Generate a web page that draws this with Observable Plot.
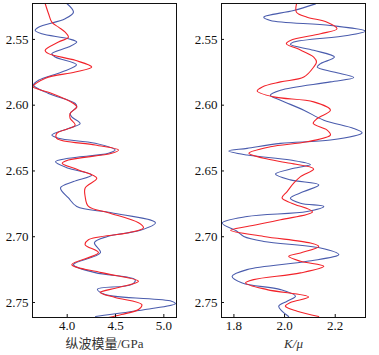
<!DOCTYPE html>
<html><head><meta charset="utf-8">
<script src="https://cdn.jsdelivr.net/npm/d3@7"></script>
<script src="https://cdn.jsdelivr.net/npm/@observablehq/plot@0.6"></script>
<style>
html,body{margin:0;padding:0;background:#fff;}
#wrap{position:relative;width:379px;height:355px;}
#left,#right{position:absolute;top:0;}
#left{left:0;} #right{left:190px;}
</style></head>
<body><div id="wrap"><div id="left"></div><div id="right"></div></div>
<script>
// Depth ticks and axis ticks
const depthTicks = [2.55, 2.60, 2.65, 2.70, 2.75];
const vpTicks = [4.0, 4.5, 5.0];
const kmuTicks = [1.8, 2.0, 2.2];

// P-wave modulus (GPa) – blue curve
const vpBlueDepth = [2.5227,2.5293,2.5343,2.5407,2.5432,2.5457,2.5495,2.5520,2.5558,2.5608,2.5634,2.5693,2.5748,2.5811,2.5848,2.5911,2.5987,2.6013,2.6063,2.6089,2.6139,2.6177,2.6227,2.6252,2.6290,2.6341,2.6366,2.6404,2.6430,2.6477,2.6530,2.6581,2.6629,2.6705,2.6770,2.6818,2.6894,2.6951,2.6998,2.7045,2.7121,2.7212,2.7273,2.7326,2.7364,2.7398,2.7439,2.7490,2.7508,2.7553,2.7606];
const vpBlue = [3.996,4.065,3.979,3.703,3.669,3.737,4.013,4.099,4.013,3.841,3.876,4.096,3.944,3.703,3.651,3.807,4.083,4.099,4.031,4.047,4.134,4.013,3.841,3.910,4.290,4.496,4.427,4.013,3.879,4.003,4.254,4.065,3.931,4.013,4.099,4.458,4.913,4.758,4.417,4.282,4.344,4.065,4.290,4.703,4.665,4.313,4.393,5.079,5.120,4.807,4.293];
// P-wave modulus (GPa) – red curve
const vpRedDepth = [2.5227,2.5305,2.5369,2.5407,2.5445,2.5483,2.5520,2.5583,2.5608,2.5659,2.5710,2.5748,2.5795,2.5860,2.5879,2.5911,2.5987,2.6013,2.6063,2.6101,2.6152,2.6214,2.6252,2.6303,2.6341,2.6366,2.6417,2.6442,2.6492,2.6555,2.6629,2.6695,2.6770,2.6818,2.6894,2.6932,2.6970,2.7023,2.7061,2.7121,2.7212,2.7273,2.7339,2.7386,2.7424,2.7462,2.7515,2.7553,2.7591,2.7614];
const vpRed = [3.772,3.807,3.841,3.910,3.979,4.013,3.910,3.772,3.807,4.083,4.254,4.083,3.775,3.646,3.703,3.841,4.065,4.099,4.031,4.031,4.083,3.892,3.892,4.290,4.531,4.461,4.013,3.948,4.117,4.306,4.186,4.186,4.220,4.427,4.738,4.789,4.634,4.220,4.186,4.324,4.048,4.355,4.738,4.531,4.341,4.496,4.772,4.738,4.562,4.427];

// K/mu – blue curve
const kmuBlueDepth = [2.5230,2.5280,2.5331,2.5356,2.5394,2.5437,2.5470,2.5520,2.5538,2.5583,2.5634,2.5684,2.5710,2.5748,2.5790,2.5823,2.5886,2.5924,2.5962,2.6038,2.6114,2.6177,2.6210,2.6265,2.6290,2.6328,2.6348,2.6379,2.6417,2.6451,2.6480,2.6523,2.6568,2.6606,2.6657,2.6707,2.6745,2.6770,2.6808,2.6846,2.6896,2.6960,2.6998,2.7036,2.7086,2.7136,2.7187,2.7250,2.7301,2.7351,2.7402,2.7452,2.7490,2.7528,2.7566,2.7606];
const kmuBlue = [2.122,2.036,1.918,1.944,2.181,2.319,2.247,2.036,2.023,2.115,2.197,2.142,2.129,2.194,2.273,2.181,1.984,1.944,1.984,2.076,2.155,2.273,2.306,2.181,1.984,1.852,1.780,1.852,2.023,2.102,2.036,1.964,2.023,2.135,2.076,2.023,2.063,2.155,2.089,1.852,1.754,1.813,1.839,1.918,2.142,2.214,2.089,1.852,1.793,1.833,1.984,2.043,2.010,1.977,1.990,2.016];
// K/mu – red curve
const kmuRedDepth = [2.5230,2.5293,2.5331,2.5369,2.5419,2.5457,2.5508,2.5533,2.5570,2.5634,2.5672,2.5710,2.5786,2.5823,2.5861,2.5892,2.5937,2.5975,2.6038,2.6101,2.6139,2.6189,2.6227,2.6278,2.6316,2.6366,2.6404,2.6442,2.6485,2.6543,2.6593,2.6657,2.6705,2.6745,2.6811,2.6871,2.6922,2.6951,2.6998,2.7048,2.7074,2.7123,2.7149,2.7187,2.7225,2.7275,2.7326,2.7351,2.7402,2.7458,2.7500,2.7528,2.7566,2.7606];
const kmuRed = [2.047,2.047,2.089,2.168,2.207,2.142,2.023,2.007,2.050,2.115,2.126,2.115,2.076,1.984,1.912,1.892,1.957,2.115,2.181,2.129,2.113,2.168,2.181,2.089,1.944,1.859,1.918,2.023,2.115,2.063,2.036,2.010,1.990,2.028,2.110,1.984,1.852,1.787,1.918,2.102,2.135,2.063,2.016,2.063,2.155,2.063,1.878,1.846,1.931,2.095,2.023,2.003,2.050,2.135];

const BLUE = "#4a5cad";
const RED = "#f2232a";
const FONT = "'Liberation Serif', 'Noto Sans CJK SC', serif";

function pairs(depths, vals) { return depths.map((d, i) => ({depth: d, v: vals[i]})); }

function panel({width, marginLeft, marginRight, xDomain, xTicks, xFormat, xLabel, blue, red}) {
  return Plot.plot({
    width, height: 355,
    marginTop: 3, marginBottom: 38, marginLeft, marginRight,
    style: {fontFamily: FONT, fontSize: "13px", color: "#111", background: "transparent"},
    x: {domain: xDomain, label: null},
    y: {domain: [2.5227, 2.7614], reverse: true, label: null},
    marks: [
      Plot.line(blue, {x: "v", y: "depth", stroke: BLUE, strokeWidth: 1.1, curve: "catmull-rom", clip: true}),
      Plot.line(red, {x: "v", y: "depth", stroke: RED, strokeWidth: 1.1, curve: "catmull-rom", clip: true}),
      Plot.frame({stroke: "#111", strokeWidth: 1}),
      Plot.axisY({ticks: depthTicks, tickFormat: d3.format(".2f"), tickSize: -3, tickPadding: 7, fontSize: 13, label: null}),
      Plot.axisX({ticks: xTicks, tickFormat: d3.format(xFormat), tickSize: -3, tickPadding: 6, fontSize: 13, label: null}),
      Plot.text([xLabel], {frameAnchor: "bottom", dy: 30, text: d => d, fontSize: 13, fontStyle: xLabel === "K/μ" ? "italic" : "normal", fill: "#333"})
    ]
  });
}

document.getElementById("left").appendChild(panel({
  width: 190, marginLeft: 32, marginRight: 14,
  xDomain: [3.641, 5.131], xTicks: vpTicks, xFormat: ".1f", xLabel: "纵波模量/GPa",
  blue: pairs(vpBlueDepth, vpBlue), red: pairs(vpRedDepth, vpRed)
}));
document.getElementById("right").appendChild(panel({
  width: 189, marginLeft: 31, marginRight: 14,
  xDomain: [1.751, 2.3195], xTicks: kmuTicks, xFormat: ".1f", xLabel: "K/μ",
  blue: pairs(kmuBlueDepth, kmuBlue), red: pairs(kmuRedDepth, kmuRed)
}));
</script></body></html>
